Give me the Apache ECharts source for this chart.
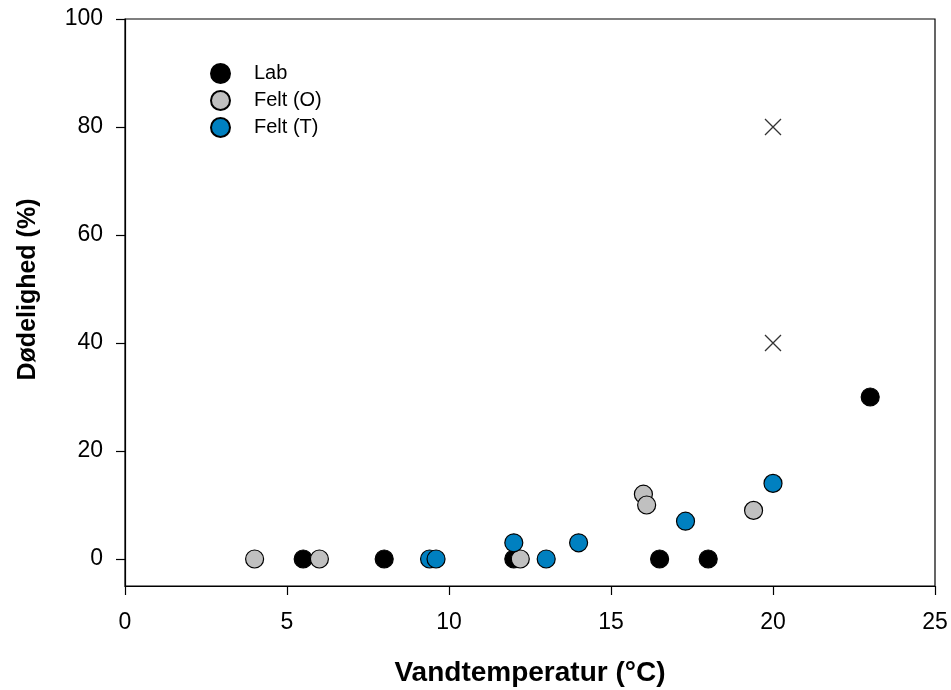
<!DOCTYPE html>
<html><head><meta charset="utf-8">
<script src="https://cdn.jsdelivr.net/npm/echarts@6/dist/echarts.min.js"></script>
<style>html,body{margin:0;padding:0;background:#fff}#c{width:951px;height:690px}</style>
</head><body><div id="c"></div>
<script>
const labX = [5.5, 8, 12, 16.5, 18, 23];
const labY = [0, 0, 0, 0, 0, 30];
const feltOX = [4, 6, 12.2, 16, 16.1, 19.4];
const feltOY = [0, 0, 0, 12, 10, 9];
const feltTX = [9.4, 9.6, 12, 13, 14, 17.3, 20];
const feltTY = [0, 0, 3, 0, 3, 7, 14];
const crossX = [20, 20];
const crossY = [80, 40];
const yTicks = [0, 20, 40, 60, 80, 100];
const xTicks = [0, 5, 10, 15, 20, 25];

const zip = (a, b) => a.map((v, i) => [v, b[i]]);
const font = 'Liberation Sans, Arial, sans-serif';
const chart = echarts.init(document.getElementById('c'), null, {renderer: 'canvas'});
const circ = (name, xs, ys, color) => ({
  name, type: 'scatter', data: zip(xs, ys), symbol: 'circle', symbolSize: 18,
  itemStyle: {color, borderColor: '#000', borderWidth: 1.2, opacity: 1}, z: 3
});
chart.setOption({
  animation: false,
  backgroundColor: '#fff',
  grid: {left: 125, right: 16, top: 19, bottom: 104, outerBoundsMode: 'none', containLabel: false,
    show: true, borderColor: '#000', borderWidth: 1.2, backgroundColor: 'transparent'},
  legend: {
    left: 205, top: 58, orient: 'vertical', itemGap: 6, itemWidth: 19, itemHeight: 19,
    icon: 'circle',
    textStyle: {fontFamily: font, fontSize: 20, color: '#000', padding: [0, 0, 0, 19]},
    data: ['Lab', 'Felt (O)', 'Felt (T)']
  },
  xAxis: {
    type: 'value', min: 0, max: 25, interval: 5,
    name: 'Vandtemperatur (°C)', nameLocation: 'middle', nameGap: 73,
    nameTextStyle: {fontFamily: font, fontSize: 28, fontWeight: 'bold', color: '#000'},
    axisLine: {show: true, onZero: false, lineStyle: {color: '#000', width: 1.2}},
    axisTick: {show: true, inside: false, length: 9, lineStyle: {color: '#000', width: 1.2}},
    axisLabel: {fontFamily: font, fontSize: 23, color: '#000', margin: 25},
    splitLine: {show: false}
  },
  yAxis: {
    type: 'value', min: -5, max: 100,
    name: 'Dødelighed (%)', nameLocation: 'middle', nameGap: 84, nameRotate: 90,
    nameTextStyle: {fontFamily: font, fontSize: 25, fontWeight: 'bold', color: '#000', padding: [0, 0, 0, 26]},
    axisLine: {show: true, onZero: false, lineStyle: {color: '#000', width: 1.2}},
    axisTick: {show: true, inside: false, length: 9, customValues: yTicks, lineStyle: {color: '#000', width: 1.2}},
    axisLabel: {fontFamily: font, fontSize: 23, color: '#000', margin: 22, customValues: yTicks},
    splitLine: {show: false}
  },
  series: [
    circ('Lab', labX, labY, '#000000'),
    circ('Felt (O)', feltOX, feltOY, '#c0c0c0'),
    circ('Felt (T)', feltTX, feltTY, '#0080c0'),
    {
      name: 'x', type: 'scatter', data: zip(crossX, crossY),
      symbol: 'path://M0,0L10,10M10,0L0,10', symbolSize: 16,
      itemStyle: {color: 'none', borderColor: '#000', borderWidth: 1.3}
    }
  ]
});
</script></body></html>
